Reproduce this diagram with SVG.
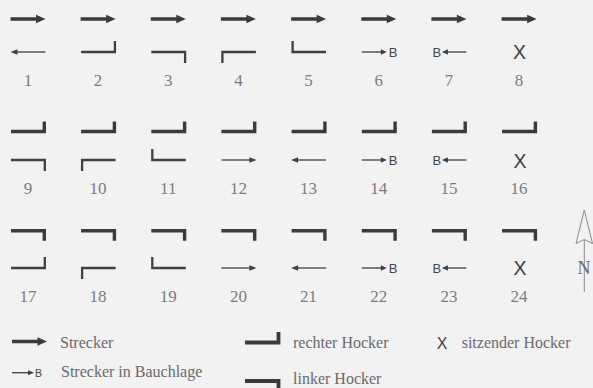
<svg xmlns="http://www.w3.org/2000/svg" width="593" height="388" viewBox="0 0 593 388">
<style>
.bg{fill:#f2f2f2}
.thk{fill:none;stroke:#3b3b3b;stroke-width:3.4;stroke-linejoin:miter;stroke-linecap:butt}
.thn{fill:none;stroke:#404040;stroke-width:2.3;stroke-linejoin:miter;stroke-linecap:butt}
.ln{fill:none;stroke:#404040;stroke-width:1.3}
.hd{fill:#404040}
.num{font-family:"Liberation Serif",serif;font-size:17px;fill:#7c7c7c;text-anchor:middle}
.b{font-family:"Liberation Sans",sans-serif;font-size:13px;fill:#454545}
.x{font-family:"Liberation Sans",sans-serif;font-size:19.5px;fill:#404040;text-anchor:middle}
.leg{font-family:"Liberation Serif",serif;font-size:16px;fill:#6a6a6a}
</style>
<defs>
<g id="tArrow"><rect x="0" y="-1.75" width="27" height="3.5" fill="#3b3b3b"/><polygon points="25.5,-4.3 35,0 25.5,4.3" fill="#3b3b3b"/></g>
<g id="tRH"><path class="thk" d="M0.5,0 H33.8 V-10"/></g>
<g id="tLH"><path class="thk" d="M0.5,0 H33.8 V10"/></g>
<g id="sRH"><path class="thn" d="M0.5,0 H34.3 V-11"/></g>
<g id="sLH"><path class="thn" d="M0.5,0 H34.3 V11"/></g>
<g id="sDL"><path class="thn" d="M1.5,11 V0 H35"/></g>
<g id="sUL"><path class="thn" d="M1.5,-11 V0 H35"/></g>
<g id="aR"><line class="ln" x1="0.5" y1="0" x2="30" y2="0"/><polygon class="hd" points="28.5,-2.8 35.5,0 28.5,2.8"/></g>
<g id="aL"><line class="ln" x1="5" y1="0" x2="35" y2="0"/><polygon class="hd" points="7,-2.8 0,0 7,2.8"/></g>
<g id="aRB"><line class="ln" x1="0.5" y1="0" x2="21" y2="0"/><polygon class="hd" points="19.5,-2.7 25.5,0 19.5,2.7"/></g>
<g id="aLB"><polygon class="hd" points="16.5,-2.7 10.5,0 16.5,2.7"/><line class="ln" x1="15" y1="0" x2="35" y2="0"/></g>
</defs>
<rect class="bg" x="0" y="0" width="593" height="388"/>

<!-- Row A -->
<g id="item1" transform="translate(10.5,0)"><use href="#tArrow" y="19"/><use href="#aL" y="52"/><text class="num" x="17.5" y="86">1</text></g>
<g id="item2" transform="translate(80.6,0)"><use href="#tArrow" y="19"/><use href="#sRH" y="52"/><text class="num" x="17.5" y="86">2</text></g>
<g id="item3" transform="translate(150.8,0)"><use href="#tArrow" y="19"/><use href="#sLH" y="52"/><text class="num" x="17.5" y="86">3</text></g>
<g id="item4" transform="translate(220.9,0)"><use href="#tArrow" y="19"/><use href="#sDL" y="52"/><text class="num" x="17.5" y="86">4</text></g>
<g id="item5" transform="translate(291.1,0)"><use href="#tArrow" y="19"/><use href="#sUL" y="52"/><text class="num" x="17.5" y="86">5</text></g>
<g id="item6" transform="translate(361.3,0)"><use href="#tArrow" y="19"/><use href="#aRB" y="52"/><text class="b" x="27.5" y="56.7">B</text><text class="num" x="17.5" y="86">6</text></g>
<g id="item7" transform="translate(431.4,0)"><use href="#tArrow" y="19"/><use href="#aLB" y="52"/><text class="b" x="1" y="56.7">B</text><text class="num" x="17.5" y="86">7</text></g>
<g id="item8" transform="translate(501.6,0)"><use href="#tArrow" y="19"/><text class="x" x="18" y="59">X</text><text class="num" x="17.5" y="86">8</text></g>

<!-- Row B -->
<g id="item9" transform="translate(10.5,0)"><use href="#tRH" y="131.5"/><use href="#sLH" y="160"/><text class="num" x="17.5" y="194">9</text></g>
<g id="item10" transform="translate(80.6,0)"><use href="#tRH" y="131.5"/><use href="#sDL" y="160"/><text class="num" x="17.5" y="194">10</text></g>
<g id="item11" transform="translate(150.8,0)"><use href="#tRH" y="131.5"/><use href="#sUL" y="160"/><text class="num" x="17.5" y="194">11</text></g>
<g id="item12" transform="translate(220.9,0)"><use href="#tRH" y="131.5"/><use href="#aR" y="160"/><text class="num" x="17.5" y="194">12</text></g>
<g id="item13" transform="translate(291.1,0)"><use href="#tRH" y="131.5"/><use href="#aL" y="160"/><text class="num" x="17.5" y="194">13</text></g>
<g id="item14" transform="translate(361.3,0)"><use href="#tRH" y="131.5"/><use href="#aRB" y="160"/><text class="b" x="27.5" y="164.7">B</text><text class="num" x="17.5" y="194">14</text></g>
<g id="item15" transform="translate(431.4,0)"><use href="#tRH" y="131.5"/><use href="#aLB" y="160"/><text class="b" x="1" y="164.7">B</text><text class="num" x="17.5" y="194">15</text></g>
<g id="item16" transform="translate(501.6,0)"><use href="#tRH" y="131.5"/><text class="x" x="18.5" y="167.5">X</text><text class="num" x="17.5" y="194">16</text></g>

<!-- Row C -->
<g id="item17" transform="translate(10.5,0)"><use href="#tLH" y="230.7"/><use href="#sRH" y="268"/><text class="num" x="17.5" y="301.5">17</text></g>
<g id="item18" transform="translate(80.6,0)"><use href="#tLH" y="230.7"/><use href="#sDL" y="268"/><text class="num" x="17.5" y="301.5">18</text></g>
<g id="item19" transform="translate(150.8,0)"><use href="#tLH" y="230.7"/><use href="#sUL" y="268"/><text class="num" x="17.5" y="301.5">19</text></g>
<g id="item20" transform="translate(220.9,0)"><use href="#tLH" y="230.7"/><use href="#aR" y="268"/><text class="num" x="17.5" y="301.5">20</text></g>
<g id="item21" transform="translate(291.1,0)"><use href="#tLH" y="230.7"/><use href="#aL" y="268"/><text class="num" x="17.5" y="301.5">21</text></g>
<g id="item22" transform="translate(361.3,0)"><use href="#tLH" y="230.7"/><use href="#aRB" y="268"/><text class="b" x="27.5" y="272.7">B</text><text class="num" x="17.5" y="301.5">22</text></g>
<g id="item23" transform="translate(431.4,0)"><use href="#tLH" y="230.7"/><use href="#aLB" y="268"/><text class="b" x="1" y="272.7">B</text><text class="num" x="17.5" y="301.5">23</text></g>
<g id="item24" transform="translate(501.6,0)"><use href="#tLH" y="230.7"/><text class="x" x="18.5" y="275">X</text><text class="num" x="17.5" y="301.5">24</text></g>

<!-- North arrow -->
<g id="north">
<line x1="584.3" y1="239.5" x2="584.3" y2="292" stroke="#8a8a8a" stroke-width="1"/>
<polygon points="584.3,210 592.5,243.5 584.3,239.5 576,243.5" fill="none" stroke="#8a8a8a" stroke-width="1" stroke-linejoin="miter"/>
<text x="584" y="274" font-family="Liberation Serif, serif" font-size="18" fill="#6a6a6a" text-anchor="middle">N</text>
</g>

<!-- Legend -->
<g id="legend">
<g id="leg-strecker"><use href="#tArrow" x="12" y="341.5"/><text class="leg" x="60" y="347.5">Strecker</text></g>
<g id="leg-bauch"><line class="ln" x1="12" y1="372.7" x2="29" y2="372.7"/><polygon class="hd" points="28,-2.5 34,0 28,2.5" transform="translate(0,372.7)"/><text font-family="Liberation Sans, sans-serif" font-size="10.5" fill="#454545" x="35" y="376.5">B</text><text class="leg" x="61" y="377">Strecker in Bauchlage</text></g>
<g id="leg-rechts"><path class="thk" d="M245,342.5 H278.5 V332" style="stroke-width:3.8"/><text class="leg" x="293" y="348">rechter Hocker</text></g>
<g id="leg-links"><path class="thk" d="M245,381 H278.5 V392" style="stroke-width:3.8"/><text class="leg" x="293" y="384">linker Hocker</text></g>
<g id="leg-sitz"><text class="x" x="442.2" y="348.5" style="font-size:16px">X</text><text class="leg" x="461.7" y="348">sitzender Hocker</text></g>
</g>
</svg>
